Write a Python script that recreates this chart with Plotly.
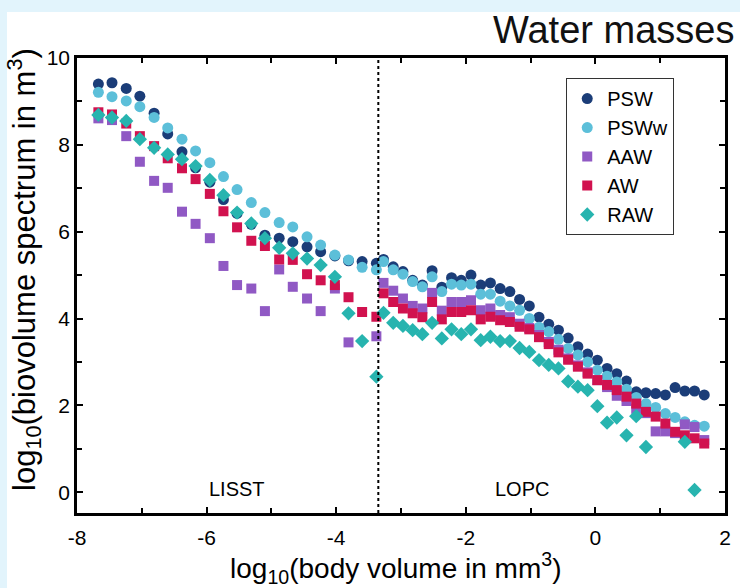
import plotly.graph_objects as go

# LISST and LOPC size-bin centres (log10 body volume, mm^3)
x_lisst = [-7.67, -7.46, -7.24, -7.03, -6.81, -6.60, -6.38, -6.17, -5.95, -5.74,
           -5.53, -5.31, -5.10, -4.88, -4.67, -4.45, -4.24, -4.02, -3.81, -3.60, -3.38]
x_lopc = [-3.27, -3.12, -2.97, -2.82, -2.67, -2.52, -2.37, -2.22, -2.07, -1.92,
          -1.77, -1.62, -1.47, -1.32, -1.17, -1.02, -0.87, -0.72, -0.57, -0.42,
          -0.27, -0.12, 0.03, 0.18, 0.33, 0.48, 0.63, 0.78, 0.93, 1.08,
          1.23, 1.38, 1.53, 1.68]

psw = [9.40, 9.43, 9.30, 9.12, 8.73, 8.25, 7.84, 7.47, 7.14, 6.74,
       6.42, 6.17, 5.92, 5.85, 5.77, 5.65, 5.54, 5.44, 5.33, 5.31, 5.27,
       5.36, 5.19, 5.08, 4.88, 4.77, 5.10, 4.72, 4.94, 4.88, 5.00,
       4.77, 4.82, 4.69, 4.62, 4.44, 4.29, 4.03, 3.87, 3.73, 3.55,
       3.35, 3.18, 3.04, 2.85, 2.73, 2.56, 2.31, 2.29, 2.27, 2.24,
       2.41, 2.33, 2.33, 2.24]
psww = [9.21, 9.11, 9.01, 8.88, 8.63, 8.39, 8.13, 7.86, 7.59, 7.27,
        6.97, 6.67, 6.44, 6.21, 6.11, 5.88, 5.69, 5.46, 5.35, 5.18, 5.12,
        5.31, 5.12, 5.02, 4.85, 4.73, 4.96, 4.62, 4.79, 4.77, 4.79,
        4.56, 4.56, 4.40, 4.29, 4.19, 4.00, 3.80, 3.70, 3.52, 3.31,
        3.16, 3.00, 2.81, 2.67, 2.54, 2.37, 2.18, 2.04, 1.95, 1.81,
        1.72, 1.62, 1.54, 1.52]
aaw = [8.61, 8.57, 8.20, 7.61, 7.17, 7.01, 6.46, 6.18, 5.85, 5.21,
       4.77, 4.69, 4.17, 5.13, 4.73, 4.46, 4.17, 4.69, 3.45, None, 3.59,
       4.82, 4.64, 4.46, 4.29, 4.23, 4.59, 4.18, 4.38, 4.38, 4.42,
       4.19, 4.23, 4.08, 4.03, 3.88, 3.78, 3.62, 3.46, 3.28, 3.08,
       2.92, 2.76, 2.58, 2.42, 2.22, 2.10, 1.92, 1.82, 1.40, 1.40,
       1.36, 1.56, 1.50, 1.20]
aw = [8.75, 8.70, 8.49, 8.20, 7.97, 7.69, 7.46, 7.21, 6.87, 6.47,
      6.10, 5.79, 5.67, 5.36, 5.35, 5.02, 4.88, 4.77, 4.49, 4.15, 4.04,
      4.58, 4.38, 4.23, 4.12, 4.03, 4.38, 3.98, 4.15, 4.15, 4.19,
      3.98, 4.04, 3.96, 3.92, 3.81, 3.75, 3.57, 3.41, 3.22, 3.05,
      2.89, 2.73, 2.58, 2.47, 2.35, 2.20, 2.04, 1.85, 1.74, 1.58,
      1.39, 1.31, 1.24, 1.12]
raw = [8.69, 8.63, 8.55, 8.13, 7.93, 7.78, 7.67, 7.51, 7.19, 6.84,
       6.44, 6.19, 5.85, 5.63, 5.50, 5.38, 5.23, 4.96, 4.12, 3.48, 2.66,
       4.13, 3.90, 3.83, 3.73, 3.64, 3.90, 3.54, 3.75, 3.64, 3.75,
       3.50, 3.58, 3.48, 3.48, 3.32, 3.23, 3.04, 2.93, 2.85, 2.55,
       2.43, 2.35, 1.98, 1.60, 1.72, 1.31, 1.75, 1.04, None, None,
       None, 1.16, 0.05, None]

names = ["PSW", "PSWw", "AAW", "AW", "RAW"]
series = [psw, psww, aaw, aw, raw]
colors = ["#1B3D78", "#5CBFD9", "#9059C4", "#D1124F", "#27B4AF"]
symbols = ["circle", "circle", "square", "square", "diamond"]
sizes = [11, 11, 10, 10, 11]

x_tickvals = [-8, -6, -4, -2, 0, 2]
x_ticktext = ["-8", "-6", "-4", "-2", "0", "2"]
y_tickvals = [0, 2, 4, 6, 8, 10]
y_ticktext = ["0", "2", "4", "6", "8", "10"]

instrument_boundary = -3.35
instrument_labels = ["LISST", "LOPC"]
instrument_label_x = [-5.53, -1.13]

x_all = x_lisst + x_lopc
font = "Arial, Liberation Sans, sans-serif"
page_blue = "#E2F4FC"

fig = go.Figure()
for name, ys, c, s, sz in zip(names, series, colors, symbols, sizes):
    fig.add_trace(go.Scatter(
        x=x_all, y=ys, mode="markers", name=name,
        marker=dict(color=c, symbol=s, size=sz, line=dict(width=0)),
    ))

# white panel on light-blue page
fig.add_shape(type="rect", xref="paper", yref="paper",
              x0=-0.108, x1=1.05, y0=-0.3, y1=1.101,
              fillcolor="white", line=dict(width=0), layer="below")
# instrument boundary
fig.add_shape(type="line", xref="x", yref="paper",
              x0=instrument_boundary, x1=instrument_boundary, y0=0, y1=1,
              line=dict(color="black", width=2, dash="dot"))

for lab, lx in zip(instrument_labels, instrument_label_x):
    fig.add_annotation(x=lx, y=0.08, xref="x", yref="y", text=lab,
                       showarrow=False, font=dict(size=20, color="black", family=font))

fig.add_annotation(x=1.0154, y=1.062, xref="paper", yref="paper",
                   text="Water masses", showarrow=False, xanchor="right",
                   yanchor="middle", borderpad=0,
                   font=dict(size=38, color="#111", family=font))

# axis titles
fig.add_annotation(x=0.492, y=-0.121, xref="paper", yref="paper",
                   text="log<sub>10</sub>(body volume in mm<sup>3</sup>)",
                   showarrow=False, xanchor="center", yanchor="middle",
                   font=dict(size=28, color="black", family=font))
fig.add_annotation(x=-0.082, y=0.536, xref="paper", yref="paper",
                   text="log<sub>10</sub>(biovolume spectrum in m<sup>3</sup>)",
                   showarrow=False, xanchor="center", yanchor="middle", textangle=-90,
                   font=dict(size=31, color="black", family=font))

axis_common = dict(
    showgrid=False, zeroline=False, showline=True, linecolor="black", linewidth=2.5,
    mirror="ticks", ticks="inside", ticklen=6, tickwidth=1.5, tickcolor="black",
    tickfont=dict(size=21, color="black", family=font), automargin=False,
)
fig.update_xaxes(range=[-8, 2], tickvals=x_tickvals, ticktext=x_ticktext,
                 ticklabelstandoff=4,
                 minor=dict(dtick=1, tick0=0, ticks="inside", ticklen=5, tickcolor="black"),
                 **axis_common)
fig.update_yaxes(range=[-0.48, 10], tickvals=y_tickvals, ticktext=y_ticktext,
                 minor=dict(dtick=1, tick0=0, ticks="inside", ticklen=5, tickcolor="black"),
                 **axis_common)

fig.update_layout(
    width=740, height=588,
    margin=dict(l=77, r=15, t=58, b=75),
    paper_bgcolor=page_blue, plot_bgcolor="white",
    font=dict(family=font, color="black"),
    legend=dict(x=0.755, y=0.956, xanchor="left", yanchor="top",
                bgcolor="white", bordercolor="#333", borderwidth=1,
                font=dict(size=20, color="black", family=font),
                itemsizing="trace", tracegroupgap=0),
    showlegend=True,
)

fig.write_html(
    "out.html",
    config={"displayModeBar": False},
    post_script="document.body.style.margin='0px';"
                "document.body.style.background='" + page_blue + "';",
)
